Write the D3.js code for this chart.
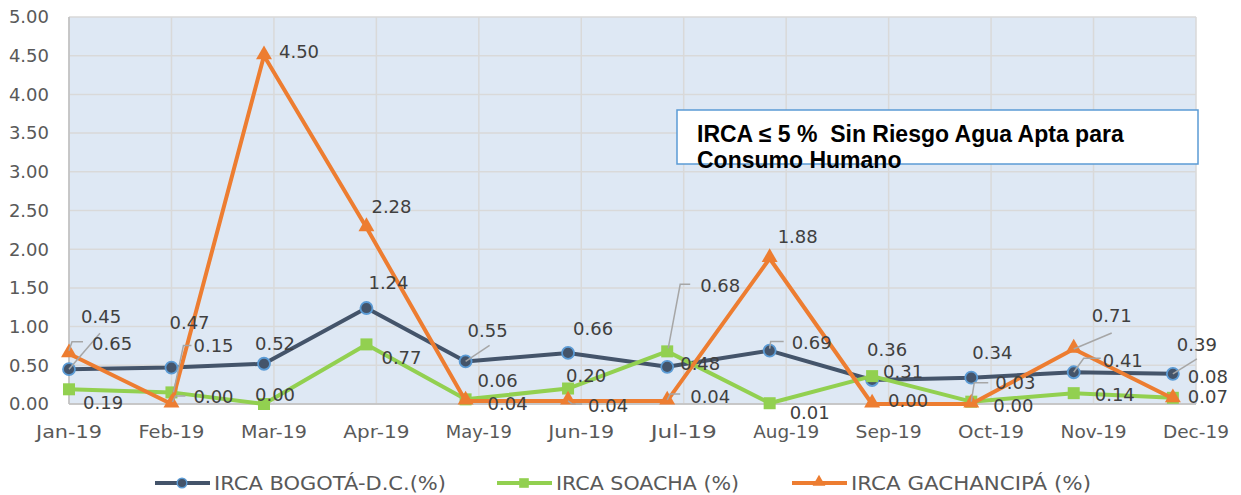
<!DOCTYPE html>
<html>
<head>
<meta charset="utf-8">
<title>IRCA 2019</title>
<script src="https://d3js.org/d3.v7.min.js"></script>
<style>
body { margin: 0; background: #fff; }
text { font-family: 'DejaVu Sans', sans-serif; }
.tick-label { fill: #595959; font-size: 18px; }
.data-label { fill: #404040; font-size: 18px; }
.legend-label { fill: #595959; font-size: 20px; }
</style>
</head>
<body>
<script>
// data
var months = ["2019-01-01","2019-02-01","2019-03-01","2019-04-01","2019-05-01","2019-06-01",
              "2019-07-01","2019-08-01","2019-09-01","2019-10-01","2019-11-01","2019-12-01"];
var tickLabels = ["Jan-19","Feb-19","Mar-19","Apr-19","May-19","Jun-19",
                  "Jul-19","Aug-19","Sep-19","Oct-19","Nov-19","Dec-19"];
var seriesNames = ["IRCA BOGOTÁ-D.C.(%)", "IRCA SOACHA (%)", "IRCA GACHANCIPÁ (%)"];
var bogota  = [0.45, 0.47, 0.52, 1.24, 0.55, 0.66, 0.48, 0.69, 0.31, 0.34, 0.41, 0.39];
var soacha  = [0.19, 0.15, 0.00, 0.77, 0.06, 0.20, 0.68, 0.01, 0.36, 0.03, 0.14, 0.08];
var gachan  = [0.65, 0.00, 4.50, 2.28, 0.04, 0.04, 0.04, 1.88, 0.00, 0.00, 0.71, 0.07];
var yTicks = [0, 0.5, 1, 1.5, 2, 2.5, 3, 3.5, 4, 4.5, 5];
var noteLines = ["IRCA ≤ 5 %  Sin Riesgo Agua Apta para", "Consumo Humano"];

// label placement (offset from point: text start x, text middle y, optional leader line)
var bogotaLbl = [
  {dx:12, dy:-52, leader:[[0,0],[31,-36]]}, {dx:-2, dy:-45}, {dx:-9, dy:-20}, {dx:2, dy:-25},
  {dx:2, dy:-31, leader:[[0,0],[24,-16]]}, {dx:5, dy:-24}, {dx:13, dy:-3},
  {dx:22, dy:-8, leader:[[0,-2],[1,-9],[14,-9]]}, {dx:11, dy:-8}, {dx:1, dy:-25},
  {dx:29, dy:-12, leader:[[0,0],[10,-14],[27,-14]]}, {dx:4, dy:-29, leader:[[0,0],[24,-15]]}
];
var soachaLbl = [
  {dx:14, dy:13}, {dx:22, dy:-47, leader:[[2,0],[12,-47],[20,-47]]}, {dx:-9, dy:-9}, {dx:15, dy:13},
  {dx:12, dy:-19}, {dx:-2, dy:-13}, {dx:33, dy:-66, leader:[[1,-3],[13,-67],[23,-67]]},
  {dx:20, dy:9}, {dx:-5, dy:-26}, {dx:24, dy:-19, leader:[[0,0],[3,-19],[17,-19]]},
  {dx:21, dy:2}, {dx:15, dy:-21}
];
var gachanLbl = [
  {dx:23, dy:-10, leader:[[0,-3],[3,-12],[14,-12]]}, {dx:22, dy:-7, leader:[[1,-2],[4,-8],[14,-8]]},
  {dx:15, dy:-4}, {dx:5, dy:-21}, {dx:22, dy:3}, {dx:20, dy:5, leader:[[0,0],[4,3],[14,3]]},
  {dx:23, dy:-4, leader:[[0,-1],[3,-7],[13,-7]]}, {dx:8, dy:-22}, {dx:16, dy:-3}, {dx:22, dy:2},
  {dx:18, dy:-33, leader:[[0,0],[38,-16]]}, {dx:15, dy:-2}
];

var W = 1241, H = 495;
var plotL = 69, plotR = 1196, plotT = 17, plotB = 404;

var svg = d3.select("body").append("svg").attr("width", W).attr("height", H);

var parse = d3.utcParse("%Y-%m-%d");
var start = parse(months[0]);
var dates = months.map(parse);
// axis runs in 31-day steps, like the spreadsheet date axis
var tickDates = tickLabels.map(function(d, i){ return d3.utcDay.offset(start, 31 * i); });

var x = d3.scaleUtc().domain([start, tickDates[tickDates.length - 1]]).range([plotL, plotR]);
var y = d3.scaleLinear().domain([0, 5]).range([plotB, plotT]);

// plot area
svg.append("rect").attr("x", plotL).attr("y", plotT).attr("width", plotR - plotL).attr("height", plotB - plotT)
  .attr("fill", "#DEE8F4");

var grid = svg.append("g");
grid.selectAll("line.h").data(yTicks).enter().append("line")
  .attr("x1", plotL).attr("x2", plotR)
  .attr("y1", function(d){ return y(d); }).attr("y2", function(d){ return y(d); })
  .attr("stroke", "#D9D9D9").attr("stroke-width", 1.5);
grid.selectAll("line.v").data(tickDates).enter().append("line")
  .attr("y1", plotT).attr("y2", plotB)
  .attr("x1", function(d){ return x(d); }).attr("x2", function(d){ return x(d); })
  .attr("stroke", "#D9D9D9").attr("stroke-width", 1.5);
svg.append("line").attr("x1", plotL).attr("x2", plotL).attr("y1", plotT).attr("y2", plotB)
  .attr("stroke", "#BFBFBF").attr("stroke-width", 1.5);
svg.append("line").attr("x1", plotL).attr("x2", plotR).attr("y1", plotB).attr("y2", plotB)
  .attr("stroke", "#BFBFBF").attr("stroke-width", 1.5);

// axis labels
svg.append("g").selectAll("text").data(yTicks).enter().append("text")
  .attr("class", "tick-label")
  .attr("x", 49).attr("y", function(d){ return y(d); })
  .attr("dy", "0.35em").attr("text-anchor", "end")
  .text(d3.format(".2f"));
svg.append("g").selectAll("text").data(tickDates).enter().append("text")
  .attr("class", "tick-label")
  .attr("x", function(d){ return x(d); }).attr("y", 432)
  .attr("dy", "0.35em").attr("text-anchor", "middle")
  .attr("textLength", 66).attr("lengthAdjust", "spacingAndGlyphs")
  .text(function(d, i){ return tickLabels[i]; });

// note box
var note = svg.append("g");
note.append("rect").attr("x", 677).attr("y", 110).attr("width", 521).attr("height", 54)
  .attr("fill", "#fff").attr("stroke", "#5B9BD5").attr("stroke-width", 1.5);
note.selectAll("text").data(noteLines).enter().append("text")
  .attr("x", 697).attr("y", function(d, i){ return 142 + i * 26; })
  .attr("xml:space", "preserve").style("white-space", "pre")
  .style("font-family", "'Liberation Sans', Arial, sans-serif")
  .style("font-weight", "bold").style("font-size", "23px").attr("fill", "#000")
  .text(function(d){ return d; });

var series = [
  {name: seriesNames[0], values: bogota, lbl: bogotaLbl, color: "#44546A", marker: "circle"},
  {name: seriesNames[1], values: soacha, lbl: soachaLbl, color: "#92D050", marker: "square"},
  {name: seriesNames[2], values: gachan, lbl: gachanLbl, color: "#ED7D31", marker: "triangle"}
];

function drawMarker(g, type, cx, cy, scale) {
  scale = scale || 1;
  if (type == "circle") {
    g.append("circle").attr("cx", cx).attr("cy", cy).attr("r", 6 * scale)
      .attr("fill", "#44546A").attr("stroke", "#5B9BD5").attr("stroke-width", 1.8 * scale);
  } else if (type == "square") {
    var s = 12 * scale;
    g.append("rect").attr("x", cx - s / 2).attr("y", cy - s / 2).attr("width", s).attr("height", s)
      .attr("fill", "#92D050");
  } else {
    g.append("path").attr("d", d3.symbol().type(d3.symbolTriangle).size(110 * scale * scale)())
      .attr("transform", "translate(" + cx + "," + (cy - 1) + ")")
      .attr("fill", "#ED7D31");
  }
}

var line = d3.line()
  .x(function(d, i){ return x(dates[i]); })
  .y(function(d){ return y(d); });

series.forEach(function(s){
  var g = svg.append("g");
  g.append("path").datum(s.values).attr("d", line)
    .attr("fill", "none").attr("stroke", s.color).attr("stroke-width", 4)
    .attr("stroke-linejoin", "round");
  s.values.forEach(function(v, i){ drawMarker(g, s.marker, x(dates[i]), y(v)); });
});

// data labels with leader lines
series.forEach(function(s){
  var g = svg.append("g");
  s.values.forEach(function(v, i){
    var px = x(dates[i]), py = y(v), p = s.lbl[i];
    if (p.leader) {
      g.append("polyline")
        .attr("points", p.leader.map(function(q){ return (px + q[0]) + "," + (py + q[1]); }).join(" "))
        .attr("fill", "none").attr("stroke", "#A6A6A6").attr("stroke-width", 1.5);
    }
    g.append("text").attr("class", "data-label")
      .attr("x", px + p.dx).attr("y", py + p.dy).attr("dy", "0.35em")
      .text(d3.format(".2f")(v));
  });
});

// legend
var legendX = [155, 497, 792];
var legendW = [232, 183, 240];
var legend = svg.append("g");
series.forEach(function(s, i){
  var lx = legendX[i], ly = 483;
  legend.append("line").attr("x1", lx).attr("x2", lx + 55).attr("y1", ly).attr("y2", ly)
    .attr("stroke", s.color).attr("stroke-width", 4);
  drawMarker(legend, s.marker, lx + 27, ly, 0.8);
  legend.append("text").attr("class", "legend-label")
    .attr("x", lx + 59).attr("y", ly).attr("dy", "0.35em")
    .attr("textLength", legendW[i]).attr("lengthAdjust", "spacingAndGlyphs")
    .text(s.name);
});
</script>
</body>
</html>
